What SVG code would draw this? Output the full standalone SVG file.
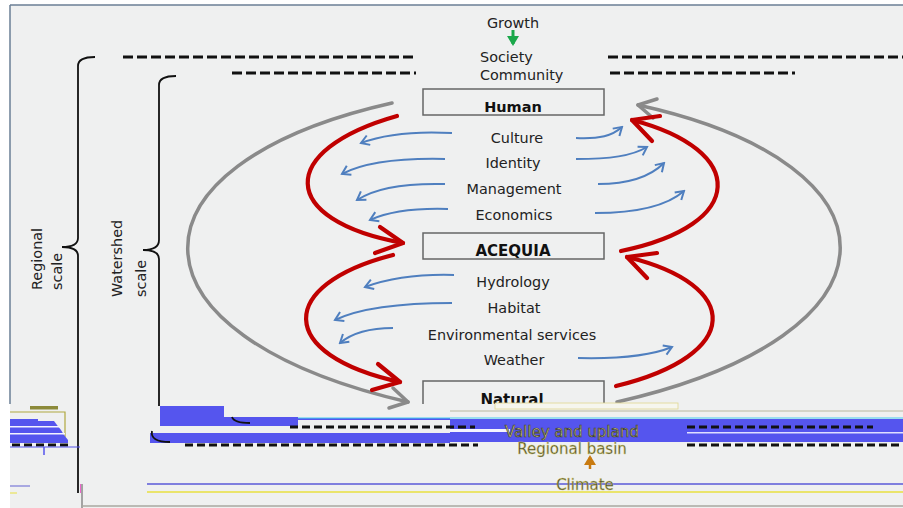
<svg xmlns="http://www.w3.org/2000/svg" width="903" height="508" viewBox="0 0 903 508">
<style>
.t{font-family:"DejaVu Sans","Liberation Sans",sans-serif;font-size:14.4px;fill:#222}
.b{font-family:"DejaVu Sans","Liberation Sans",sans-serif;font-weight:bold;fill:#111}
.box{fill:none;stroke:#666;stroke-width:1.5}
.dash{stroke:#111;stroke-width:3;stroke-dasharray:10 4;fill:none}
.dsm{stroke:#111;stroke-width:3;stroke-dasharray:8 4;fill:none}
.blue{fill:none;stroke:#4f7fbf;stroke-width:2;marker-end:url(#ab)}
.red{fill:none;stroke:#c00000;stroke-width:4.2;stroke-linecap:round;stroke-linejoin:round}
.gray{fill:none;stroke:#8a8a8a;stroke-width:3.5;stroke-linecap:round;stroke-linejoin:round}
.brk{fill:none;stroke:#111;stroke-width:1.8}
.gl{font-family:"DejaVu Sans","Liberation Sans",sans-serif;font-size:15px;fill:#e6df86;stroke:#3a3a30;stroke-width:0.7}
.gd{font-family:"DejaVu Sans","Liberation Sans",sans-serif;font-size:15px;fill:#4a4a30;stroke:#d8d070;stroke-width:0.4}
</style>
<defs>
<marker id="ab" viewBox="-10 -7 12 14" markerWidth="12" markerHeight="14" refX="0" refY="0" markerUnits="userSpaceOnUse" orient="auto">
<path d="M-8,-5 L0,0 L-8,5" fill="none" stroke="#4f7fbf" stroke-width="2"/>
</marker>
<marker id="ga" viewBox="-10 -6 12 12" markerWidth="12" markerHeight="12" refX="-2" refY="0" markerUnits="userSpaceOnUse" orient="auto">
<path d="M-10,-6 L0,0 L-10,6 Z" fill="#1aa84a"/>
</marker>
<marker id="oa" viewBox="-10 -6 12 12" markerWidth="12" markerHeight="12" refX="-2" refY="0" markerUnits="userSpaceOnUse" orient="auto">
<path d="M-10,-6 L0,0 L-10,6 Z" fill="#c87a10"/>
</marker>
<clipPath id="cut"><rect x="0" y="0" width="903" height="404"/></clipPath>
</defs>
<rect width="903" height="508" fill="#ffffff"/>
<rect x="10" y="5" width="893" height="503" fill="#eff0f0"/>
<path d="M10,5 H903 M10,5 V404" stroke="#6b7f95" stroke-width="1.5" fill="none"/>

<g id="growth">
<text class="t" x="513" y="28" text-anchor="middle" font-size="15.5">Growth</text>
<line x1="513" y1="30" x2="513" y2="44" stroke="#1aa84a" stroke-width="3" marker-end="url(#ga)"/>
</g>
<g id="society"><text class="t" x="480" y="62" font-size="15">Society</text></g>
<g id="community"><text class="t" x="480" y="80" font-size="15">Community</text></g>

<g id="scale-lines">
<line class="dash" x1="123" y1="57" x2="416" y2="57"/>
<line class="dash" x1="608" y1="57" x2="903" y2="57"/>
<line class="dash" x1="232" y1="73" x2="416" y2="73"/>
<line class="dash" x1="610" y1="73" x2="795" y2="73"/>
</g>

<g id="regional-bracket">
<path class="brk" d="M95,57 Q78,57 78,66 V238 Q78,247 62,247 Q78,247 78,256 V493"/>
<text class="t" transform="translate(42,290) rotate(-90)" font-size="13.5">Regional</text>
<text class="t" transform="translate(62,290) rotate(-90)" font-size="13.5">scale</text>
</g>
<g id="watershed-bracket">
<path class="brk" d="M176,76 Q159,76 159,85 V240 Q159,250 143,250 Q159,250 159,259 V406"/>
<text class="t" transform="translate(122,297) rotate(-90)" font-size="13.5">Watershed</text>
<text class="t" transform="translate(146,297) rotate(-90)" font-size="13.5">scale</text>
</g>

<g id="human">
<rect class="box" x="423" y="89" width="181" height="26"/>
<text class="b" x="513" y="112" text-anchor="middle" font-size="14.5">Human</text>
</g>
<g id="acequia">
<rect class="box" x="423" y="233" width="181" height="26"/>
<text class="b" x="513" y="256" text-anchor="middle" font-size="15">ACEQUIA</text>
</g>
<g id="natural" clip-path="url(#cut)">
<rect class="box" x="423" y="381" width="181" height="40"/>
<text class="b" x="512" y="405" text-anchor="middle" font-size="15">Natural</text>
</g>

<g id="labels">
<text class="t" x="517" y="143" text-anchor="middle">Culture</text>
<text class="t" x="513" y="168" text-anchor="middle">Identity</text>
<text class="t" x="514" y="194" text-anchor="middle" font-size="15">Management</text>
<text class="t" x="514" y="220" text-anchor="middle">Economics</text>
<text class="t" x="513" y="287" text-anchor="middle" font-size="15">Hydrology</text>
<text class="t" x="514" y="313" text-anchor="middle">Habitat</text>
<text class="t" x="512" y="340" text-anchor="middle">Environmental services</text>
<text class="t" x="514" y="365" text-anchor="middle" font-size="15">Weather</text>
</g>

<g id="connectors">
<path class="gray" d="M392,103 C117,165 117,335 408,402"/>
<path class="gray" d="M389,408 L408,402 L393,388"/>
<path class="gray" d="M617,402 C911,335 911,165 638,105"/>
<path class="gray" d="M653,118 L638,105 L657,99"/>

<path class="red" d="M397,116 C277,150 277,220 403,243"/>
<path class="red" d="M380,227 L403,243 L375,253"/>
<path class="red" d="M393,255 C276,285 276,355 400,382"/>
<path class="red" d="M378,364 L400,382 L372,390"/>
<path class="red" d="M621,251 C748,225 748,150 632,120"/>
<path class="red" d="M660,116 L632,120 L652,141"/>
<path class="red" d="M616,386 C743,355 743,285 627,257"/>
<path class="red" d="M657,253 L627,257 L647,278"/>

<path class="blue" d="M452,133 C415,131 385,134 361,143"/>
<path class="blue" d="M445,159 C400,158 365,162 342,174"/>
<path class="blue" d="M445,184 C405,183 375,188 357,200"/>
<path class="blue" d="M448,209 C415,208 390,211 370,220"/>
<path class="blue" d="M454,275 C420,274 390,278 365,287"/>
<path class="blue" d="M452,303 C400,303 360,308 335,320"/>
<path class="blue" d="M393,328 C370,328 352,333 340,343"/>
<path class="blue" d="M576,138 C600,139 612,136 622,127"/>
<path class="blue" d="M576,159 C610,159 632,156 647,147"/>
<path class="blue" d="M598,184 C630,184 650,177 664,163"/>
<path class="blue" d="M595,213 C640,213 668,205 684,191"/>
<path class="blue" d="M578,358 C620,359 650,356 672,347"/>
</g>

<g id="bottom-band">
<rect x="495" y="403" width="183" height="6" fill="#f6f6ee" stroke="#e0d890" stroke-width="0.8"/>
<line x1="450" y1="411" x2="903" y2="411" stroke="#b8b8a0" stroke-width="1"/>
<rect x="160" y="406" width="64" height="20" fill="#5555ee"/>
<rect x="224" y="417" width="74" height="9" fill="#5555ee"/>
<rect x="298" y="418" width="152" height="2" fill="#5555ee"/>
<rect x="450" y="419" width="453" height="23" fill="#5555ee"/>
<line x1="298" y1="418" x2="903" y2="418" stroke="#44ccee" stroke-width="1"/>
<rect x="450" y="429" width="60" height="3" fill="#f4f4ff"/>
<rect x="687" y="432" width="216" height="1.5" fill="#e0e0ff"/>
<rect x="150" y="433" width="300" height="10" fill="#5555ee"/>
<line class="dsm" x1="290" y1="427" x2="475" y2="427"/>
<line class="dsm" x1="687" y1="427" x2="873" y2="427"/>
<line class="dsm" x1="185" y1="445" x2="478" y2="445"/>
<line class="dsm" x1="687" y1="445" x2="903" y2="445"/>
<path class="brk" d="M232,417 Q234,423 250,423"/>
<path class="brk" d="M152,431 Q150,442 170,442"/>
<text class="gl" x="572" y="437" text-anchor="middle">Valley and upland</text>
<text class="gd" x="572" y="454" text-anchor="middle">Regional basin</text>
<line x1="590" y1="469" x2="590" y2="457" stroke="#c87a10" stroke-width="2.5" marker-end="url(#oa)"/>
<line x1="147" y1="484" x2="903" y2="484" stroke="#5a5ad8" stroke-width="1.5"/>
<line x1="147" y1="492" x2="903" y2="492" stroke="#e8e040" stroke-width="1.5"/>
<text class="gd" x="585" y="490" text-anchor="middle">Climate</text>
<line x1="82" y1="484" x2="82" y2="508" stroke="#8a8a8a" stroke-width="1.5"/>
<line x1="80.5" y1="484" x2="80.5" y2="493" stroke="#ee66cc" stroke-width="1"/>
<line x1="82" y1="506" x2="903" y2="506" stroke="#a8a8a0" stroke-width="1.5"/>
</g>

<g id="left-glitch">
<rect x="30" y="406" width="28" height="3.5" fill="#8c8a3a"/>
<path d="M10,412 H65 V437" fill="none" stroke="#b0a840" stroke-width="1.2"/>
<polygon points="10,419 38,419 38,421 54,421 57,425 61,430 64,435 68,440 68,443 10,443" fill="#5555ee"/>
<rect x="10" y="426" width="50" height="1.5" fill="#f4f4ff"/>
<rect x="10" y="433" width="55" height="1.5" fill="#f4f4ff"/>
<line class="dsm" x1="12" y1="445" x2="72" y2="445"/>
<line x1="10" y1="447" x2="80" y2="447" stroke="#5555ee" stroke-width="1"/>
<line x1="44" y1="447" x2="44" y2="455" stroke="#5555ee" stroke-width="1.5"/>
<line x1="10" y1="486" x2="30" y2="486" stroke="#9090dd" stroke-width="1.5"/>
<line x1="10" y1="493" x2="17" y2="493" stroke="#e8e040" stroke-width="1"/>
</g>
</svg>
